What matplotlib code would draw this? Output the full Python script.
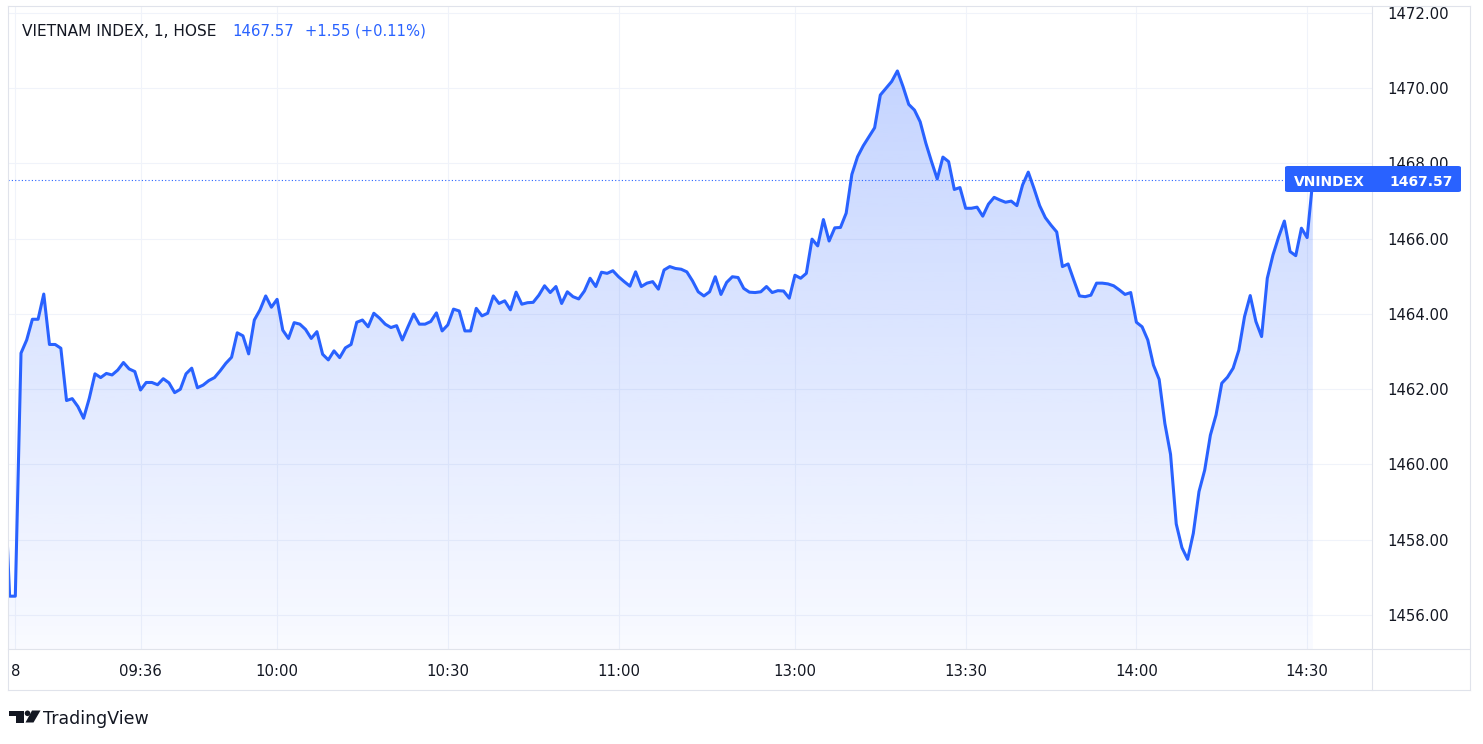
import numpy as np
import pandas as pd
import matplotlib
matplotlib.use("Agg")
import matplotlib.pyplot as plt
from matplotlib.patches import Polygon, Ellipse, FancyBboxPatch, Rectangle
from matplotlib.lines import Line2D

W, H = 1483, 744

# 1-minute bars, lunch break collapsed (two bars from the previous day on the far left)
times = (["27 14:29", "27 14:45", "09:00"]
         + list(pd.date_range("09:15", "11:30", freq="min").strftime("%H:%M"))
         + list(pd.date_range("13:00", "14:30", freq="min").strftime("%H:%M"))
         + ["14:45"])

values = [
    1460.00, 1456.50, 1456.50,
    1462.96, 1463.31, 1463.86, 1463.86, 1464.53, 1463.19, 1463.19, 1463.09, 1461.70, 1461.75,
    1461.54, 1461.23, 1461.76, 1462.41, 1462.31, 1462.42, 1462.38, 1462.51, 1462.71, 1462.54,
    1462.47, 1461.98, 1462.18, 1462.18, 1462.12, 1462.28, 1462.17, 1461.91, 1462.00, 1462.41,
    1462.56, 1462.04, 1462.11, 1462.23, 1462.31, 1462.49, 1462.69, 1462.85, 1463.50, 1463.42,
    1462.94, 1463.84, 1464.11, 1464.48, 1464.18, 1464.39, 1463.57, 1463.35, 1463.77, 1463.73,
    1463.59, 1463.35, 1463.53, 1462.93, 1462.78, 1463.02, 1462.84, 1463.10, 1463.19, 1463.78,
    1463.84, 1463.66, 1464.02, 1463.89, 1463.73, 1463.64, 1463.69, 1463.31, 1463.66, 1464.00,
    1463.73, 1463.73, 1463.80, 1464.03, 1463.55, 1463.71, 1464.13, 1464.08, 1463.55, 1463.55,
    1464.15, 1463.95, 1464.02, 1464.48, 1464.28, 1464.35, 1464.11, 1464.58, 1464.26, 1464.30,
    1464.31, 1464.50, 1464.75, 1464.57, 1464.73, 1464.28, 1464.59, 1464.46, 1464.40, 1464.61,
    1464.95, 1464.73, 1465.11, 1465.08, 1465.15, 1464.99, 1464.86, 1464.74, 1465.12, 1464.73,
    1464.82, 1464.86, 1464.66, 1465.17, 1465.26, 1465.21, 1465.19, 1465.12, 1464.88, 1464.59,
    1464.48, 1464.59, 1464.99, 1464.52, 1464.84, 1464.99, 1464.97, 1464.68, 1464.58, 1464.57,
    1464.59, 1464.73, 1464.57, 1464.62, 1464.61, 1464.42,
    1465.03, 1464.95, 1465.08, 1465.99, 1465.81, 1466.51, 1465.94, 1466.29, 1466.30, 1466.68,
    1467.71, 1468.18, 1468.47, 1468.71, 1468.95, 1469.82, 1470.00, 1470.18, 1470.46, 1470.04,
    1469.57, 1469.42, 1469.11, 1468.54, 1468.05, 1467.59, 1468.17, 1468.05, 1467.31, 1467.36,
    1466.81, 1466.81, 1466.84, 1466.60, 1466.92, 1467.10, 1467.03, 1466.97, 1467.00, 1466.88,
    1467.43, 1467.77, 1467.34, 1466.88, 1466.56, 1466.36, 1466.18, 1465.26, 1465.33, 1464.90,
    1464.48, 1464.46, 1464.50, 1464.82, 1464.82, 1464.80, 1464.75, 1464.64, 1464.52, 1464.57,
    1463.78, 1463.66, 1463.31, 1462.64, 1462.26, 1461.09, 1460.27, 1458.42, 1457.79, 1457.48,
    1458.17, 1459.28, 1459.85, 1460.78, 1461.32, 1462.16, 1462.32, 1462.56, 1463.04, 1463.93,
    1464.49, 1463.80, 1463.40, 1464.95, 1465.57, 1466.05, 1466.47, 1465.66, 1465.55, 1466.28,
    1466.03,
    1467.57,
]

tick_times = ["09:00", "09:36", "10:00", "10:30", "11:00", "13:00", "13:30", "14:00", "14:30"]
tick_labels = ["8", "09:36", "10:00", "10:30", "11:00", "13:00", "13:30", "14:00", "14:30"]
y_ticks = [1456, 1458, 1460, 1462, 1464, 1466, 1468, 1470, 1472]

title = "VIETNAM INDEX, 1, HOSE"
last_price = "1467.57"
change = "+1.55 (+0.11%)"
symbol = "VNINDEX"

BLUE = "#2962FF"
TXT = "#131722"
GRID = "#f0f3fa"
BORDER = "#e0e3eb"


def fx(px):
    return px / W


def fy(py):
    return 1 - py / H


fig = plt.figure(figsize=(W / 100, H / 100), dpi=100)
ax = fig.add_axes([fx(8), fy(649), (1372 - 8) / W, (649 - 6) / H])

x = np.arange(len(values))
y = np.array(values)
x_lo, x_hi = 0.715, 240.4
y_lo, y_hi = 1455.096, 1472.186

# gradient area under the line
alpha = np.linspace(0.30, 0.03, 256)
rgba = np.zeros((256, 1, 4))
rgba[..., 0] = 41 / 255
rgba[..., 1] = 98 / 255
rgba[..., 2] = 1.0
rgba[:, 0, 3] = alpha
img = ax.imshow(rgba, extent=[x[0], x[-1], y_lo, y_hi], aspect="auto",
                origin="upper", zorder=1, interpolation="bilinear")
poly = ax.fill_between(x, y, y_lo, facecolor="none", edgecolor="none")
img.set_clip_path(poly.get_paths()[0], transform=ax.transData)

ax.plot(x, y, color=BLUE, lw=2.2, zorder=3, solid_joinstyle="round")
ax.axhline(y[-1], color=BLUE, lw=0.8, ls=(0, (1, 2)), zorder=2)

ax.set_xlim(x_lo, x_hi)
ax.set_ylim(y_lo, y_hi)

ax.set_xticks([times.index(t) for t in tick_times])
ax.set_xticklabels(tick_labels)
ax.yaxis.tick_right()
ax.set_yticks(y_ticks)
ax.set_yticklabels([f"{v:.2f}" for v in y_ticks])
ax.tick_params(axis="both", length=0, colors=TXT, labelsize=10.7)
ax.tick_params(axis="x", pad=11)
ax.tick_params(axis="y", pad=11)
ax.grid(True, color=GRID, lw=0.75, zorder=0)
ax.set_axisbelow(True)
for s in ax.spines.values():
    s.set_visible(False)

# frame lines
def hline(py, x0, x1):
    fig.add_artist(Line2D([fx(x0), fx(x1)], [fy(py), fy(py)], color=BORDER, lw=0.8, zorder=6))


def vline(px, y0, y1):
    fig.add_artist(Line2D([fx(px), fx(px)], [fy(y0), fy(y1)], color=BORDER, lw=0.8, zorder=6))


fig.add_artist(Rectangle((fx(1372), fy(6)), (1483 - 1372) / W, 6 / H,
                         facecolor="white", edgecolor="none", zorder=5))
hline(6, 8, 1470)
hline(649, 8, 1470)
hline(690, 8, 1470)
vline(8, 6, 690)
vline(1372, 6, 690)
vline(1470, 6, 690)

# legend line at top-left
fig.text(fx(22), fy(36), title, color=TXT, fontsize=11.1, va="baseline")
fig.text(fx(232), fy(36), last_price, color=BLUE, fontsize=10.8, va="baseline")
fig.text(fx(305), fy(36), change, color=BLUE, fontsize=10.6, va="baseline")

# last price label
fig.add_artist(FancyBboxPatch((fx(1285), fy(192)), (1461 - 1285) / W, 26 / H,
                              boxstyle="round,pad=0,rounding_size=0.002",
                              facecolor=BLUE, edgecolor="none", zorder=7))
fig.text(fx(1294), fy(185.5), symbol, color="white", fontsize=10, fontweight="bold",
         va="baseline", zorder=8)
fig.text(fx(1389), fy(185.5), last_price, color="white", fontsize=10, fontweight="bold",
         va="baseline", zorder=8)

# TradingView logo
logo = "#131722"
t0, t1, tm = 710.5, 722.5, 716.0
fig.add_artist(Polygon([(fx(9), fy(t0)), (fx(24), fy(t0)), (fx(24), fy(t1)),
                        (fx(15.5), fy(t1)), (fx(15.5), fy(tm)), (fx(9), fy(tm))],
                       closed=True, facecolor=logo, edgecolor="none"))
fig.add_artist(Ellipse((fx(27.5), fy(713.3)), 5.6 / W, 5.6 / H, facecolor=logo, edgecolor="none"))
fig.add_artist(Polygon([(fx(32), fy(t0)), (fx(40.5), fy(t0)), (fx(33.5), fy(t1)),
                        (fx(25.5), fy(t1))], closed=True, facecolor=logo, edgecolor="none"))
fig.text(fx(43), fy(724), "TradingView", color=logo, fontsize=12.5, va="baseline")

fig.savefig("out.png", dpi=100, facecolor="white")
